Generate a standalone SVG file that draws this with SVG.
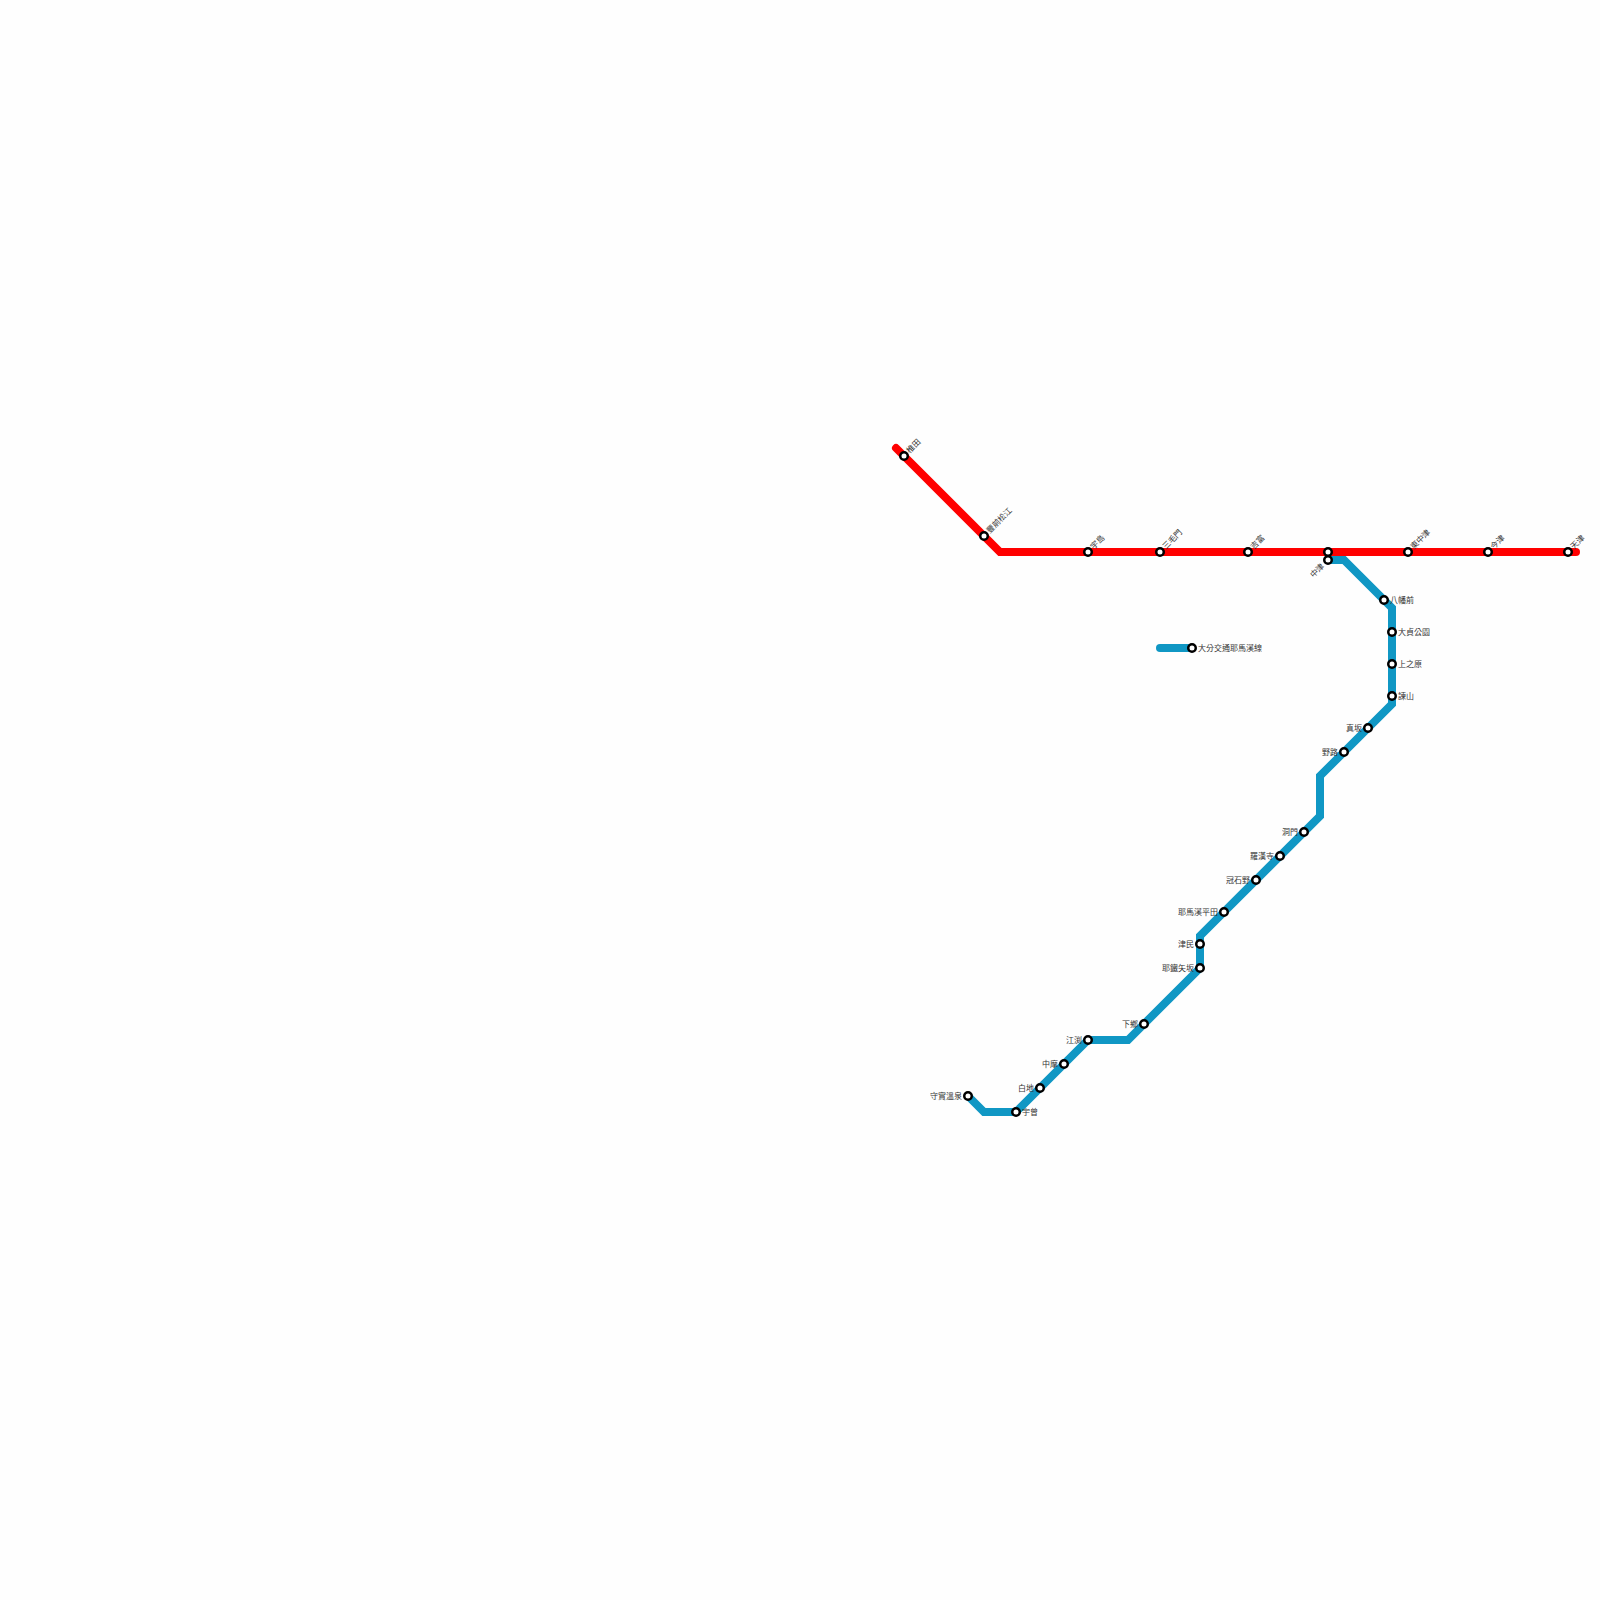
<svg xmlns="http://www.w3.org/2000/svg" width="1600" height="1600" viewBox="0 0 1600 1600">
<style>
.line{fill:none;stroke-width:8;stroke-linecap:round;stroke-linejoin:miter}
.st{fill:#fff;stroke:#000;stroke-width:2.500}
text{font-family:"Noto Sans CJK TC","Noto Sans CJK JP",sans-serif;font-size:8px;fill:#333;opacity:.99}
.e{text-anchor:end}
</style>
<rect width="1600" height="1600" fill="#fefefe"/>
<g id="connectors">
<polyline class="line" stroke="#1097c4" points="968,1096 984,1112 1016,1112 1088,1040 1128,1040 1200,968 1200,936 1320,816 1320,776 1392,704 1392,608 1344,560 1328,560"/>
<polyline class="line" stroke="#1097c4" points="1160,648 1192,648"/>
<polyline class="line" stroke="#ff0000" points="896,448 1000,552 1576,552"/>
</g>
<g id="n1"><circle class="st" cx="904" cy="456" r="3.750"/><text transform="translate(908,452) rotate(-45)" y="2.500">椎田</text></g>
<g id="n2"><circle class="st" cx="984" cy="536" r="3.750"/><text transform="translate(988,532) rotate(-45)" y="2.500">豐前松江</text></g>
<g id="n3"><circle class="st" cx="1088" cy="552" r="3.750"/><text transform="translate(1092,548) rotate(-45)" y="2.500">宇島</text></g>
<g id="n4"><circle class="st" cx="1160" cy="552" r="3.750"/><text transform="translate(1164,548) rotate(-45)" y="2.500">三毛門</text></g>
<g id="n5"><circle class="st" cx="1248" cy="552" r="3.750"/><text transform="translate(1252,548) rotate(-45)" y="2.500">吉富</text></g>
<g id="n6"><circle class="st" cx="1328" cy="552" r="3.750"/></g>
<g id="n7"><circle class="st" cx="1328" cy="560" r="3.750"/><text class="e" transform="translate(1323,565) rotate(-45)" y="2.500">中津</text></g>
<g id="n8"><circle class="st" cx="1408" cy="552" r="3.750"/><text transform="translate(1412,548) rotate(-45)" y="2.500">東中津</text></g>
<g id="n9"><circle class="st" cx="1488" cy="552" r="3.750"/><text transform="translate(1492,548) rotate(-45)" y="2.500">今津</text></g>
<g id="n10"><circle class="st" cx="1568" cy="552" r="3.750"/><text transform="translate(1572,548) rotate(-45)" y="2.500">天津</text></g>
<g id="n11"><circle class="st" cx="1384" cy="600" r="3.750"/><text x="1390" y="603">八幡前</text></g>
<g id="n12"><circle class="st" cx="1392" cy="632" r="3.750"/><text x="1398" y="635">大貞公園</text></g>
<g id="n13"><circle class="st" cx="1392" cy="664" r="3.750"/><text x="1398" y="667">上之原</text></g>
<g id="n14"><circle class="st" cx="1392" cy="696" r="3.750"/><text x="1398" y="699">諫山</text></g>
<g id="n15"><circle class="st" cx="1368" cy="728" r="3.750"/><text class="e" x="1362" y="731">真坂</text></g>
<g id="n16"><circle class="st" cx="1344" cy="752" r="3.750"/><text class="e" x="1338" y="755">野路</text></g>
<g id="n17"><circle class="st" cx="1304" cy="832" r="3.750"/><text class="e" x="1298" y="835">洞門</text></g>
<g id="n18"><circle class="st" cx="1280" cy="856" r="3.750"/><text class="e" x="1274" y="859">羅漢寺</text></g>
<g id="n19"><circle class="st" cx="1256" cy="880" r="3.750"/><text class="e" x="1250" y="883">冠石野</text></g>
<g id="n20"><circle class="st" cx="1224" cy="912" r="3.750"/><text class="e" x="1218" y="915">耶馬溪平田</text></g>
<g id="n21"><circle class="st" cx="1200" cy="944" r="3.750"/><text class="e" x="1194" y="947">津民</text></g>
<g id="n22"><circle class="st" cx="1200" cy="968" r="3.750"/><text class="e" x="1194" y="971">耶鐵矢坂</text></g>
<g id="n23"><circle class="st" cx="1144" cy="1024" r="3.750"/><text class="e" x="1138" y="1027">下鄉</text></g>
<g id="n24"><circle class="st" cx="1088" cy="1040" r="3.750"/><text class="e" x="1082" y="1043">江渕</text></g>
<g id="n25"><circle class="st" cx="1064" cy="1064" r="3.750"/><text class="e" x="1058" y="1067">中摩</text></g>
<g id="n26"><circle class="st" cx="1040" cy="1088" r="3.750"/><text class="e" x="1034" y="1091">白地</text></g>
<g id="n27"><circle class="st" cx="1016" cy="1112" r="3.750"/><text x="1022" y="1115">宇曾</text></g>
<g id="n28"><circle class="st" cx="968" cy="1096" r="3.750"/><text class="e" x="962" y="1099">守實溫泉</text></g>
<g id="legend"><circle class="st" cx="1192" cy="648" r="3.750"/><text x="1198" y="651">大分交通耶馬溪線</text></g>
</svg>
